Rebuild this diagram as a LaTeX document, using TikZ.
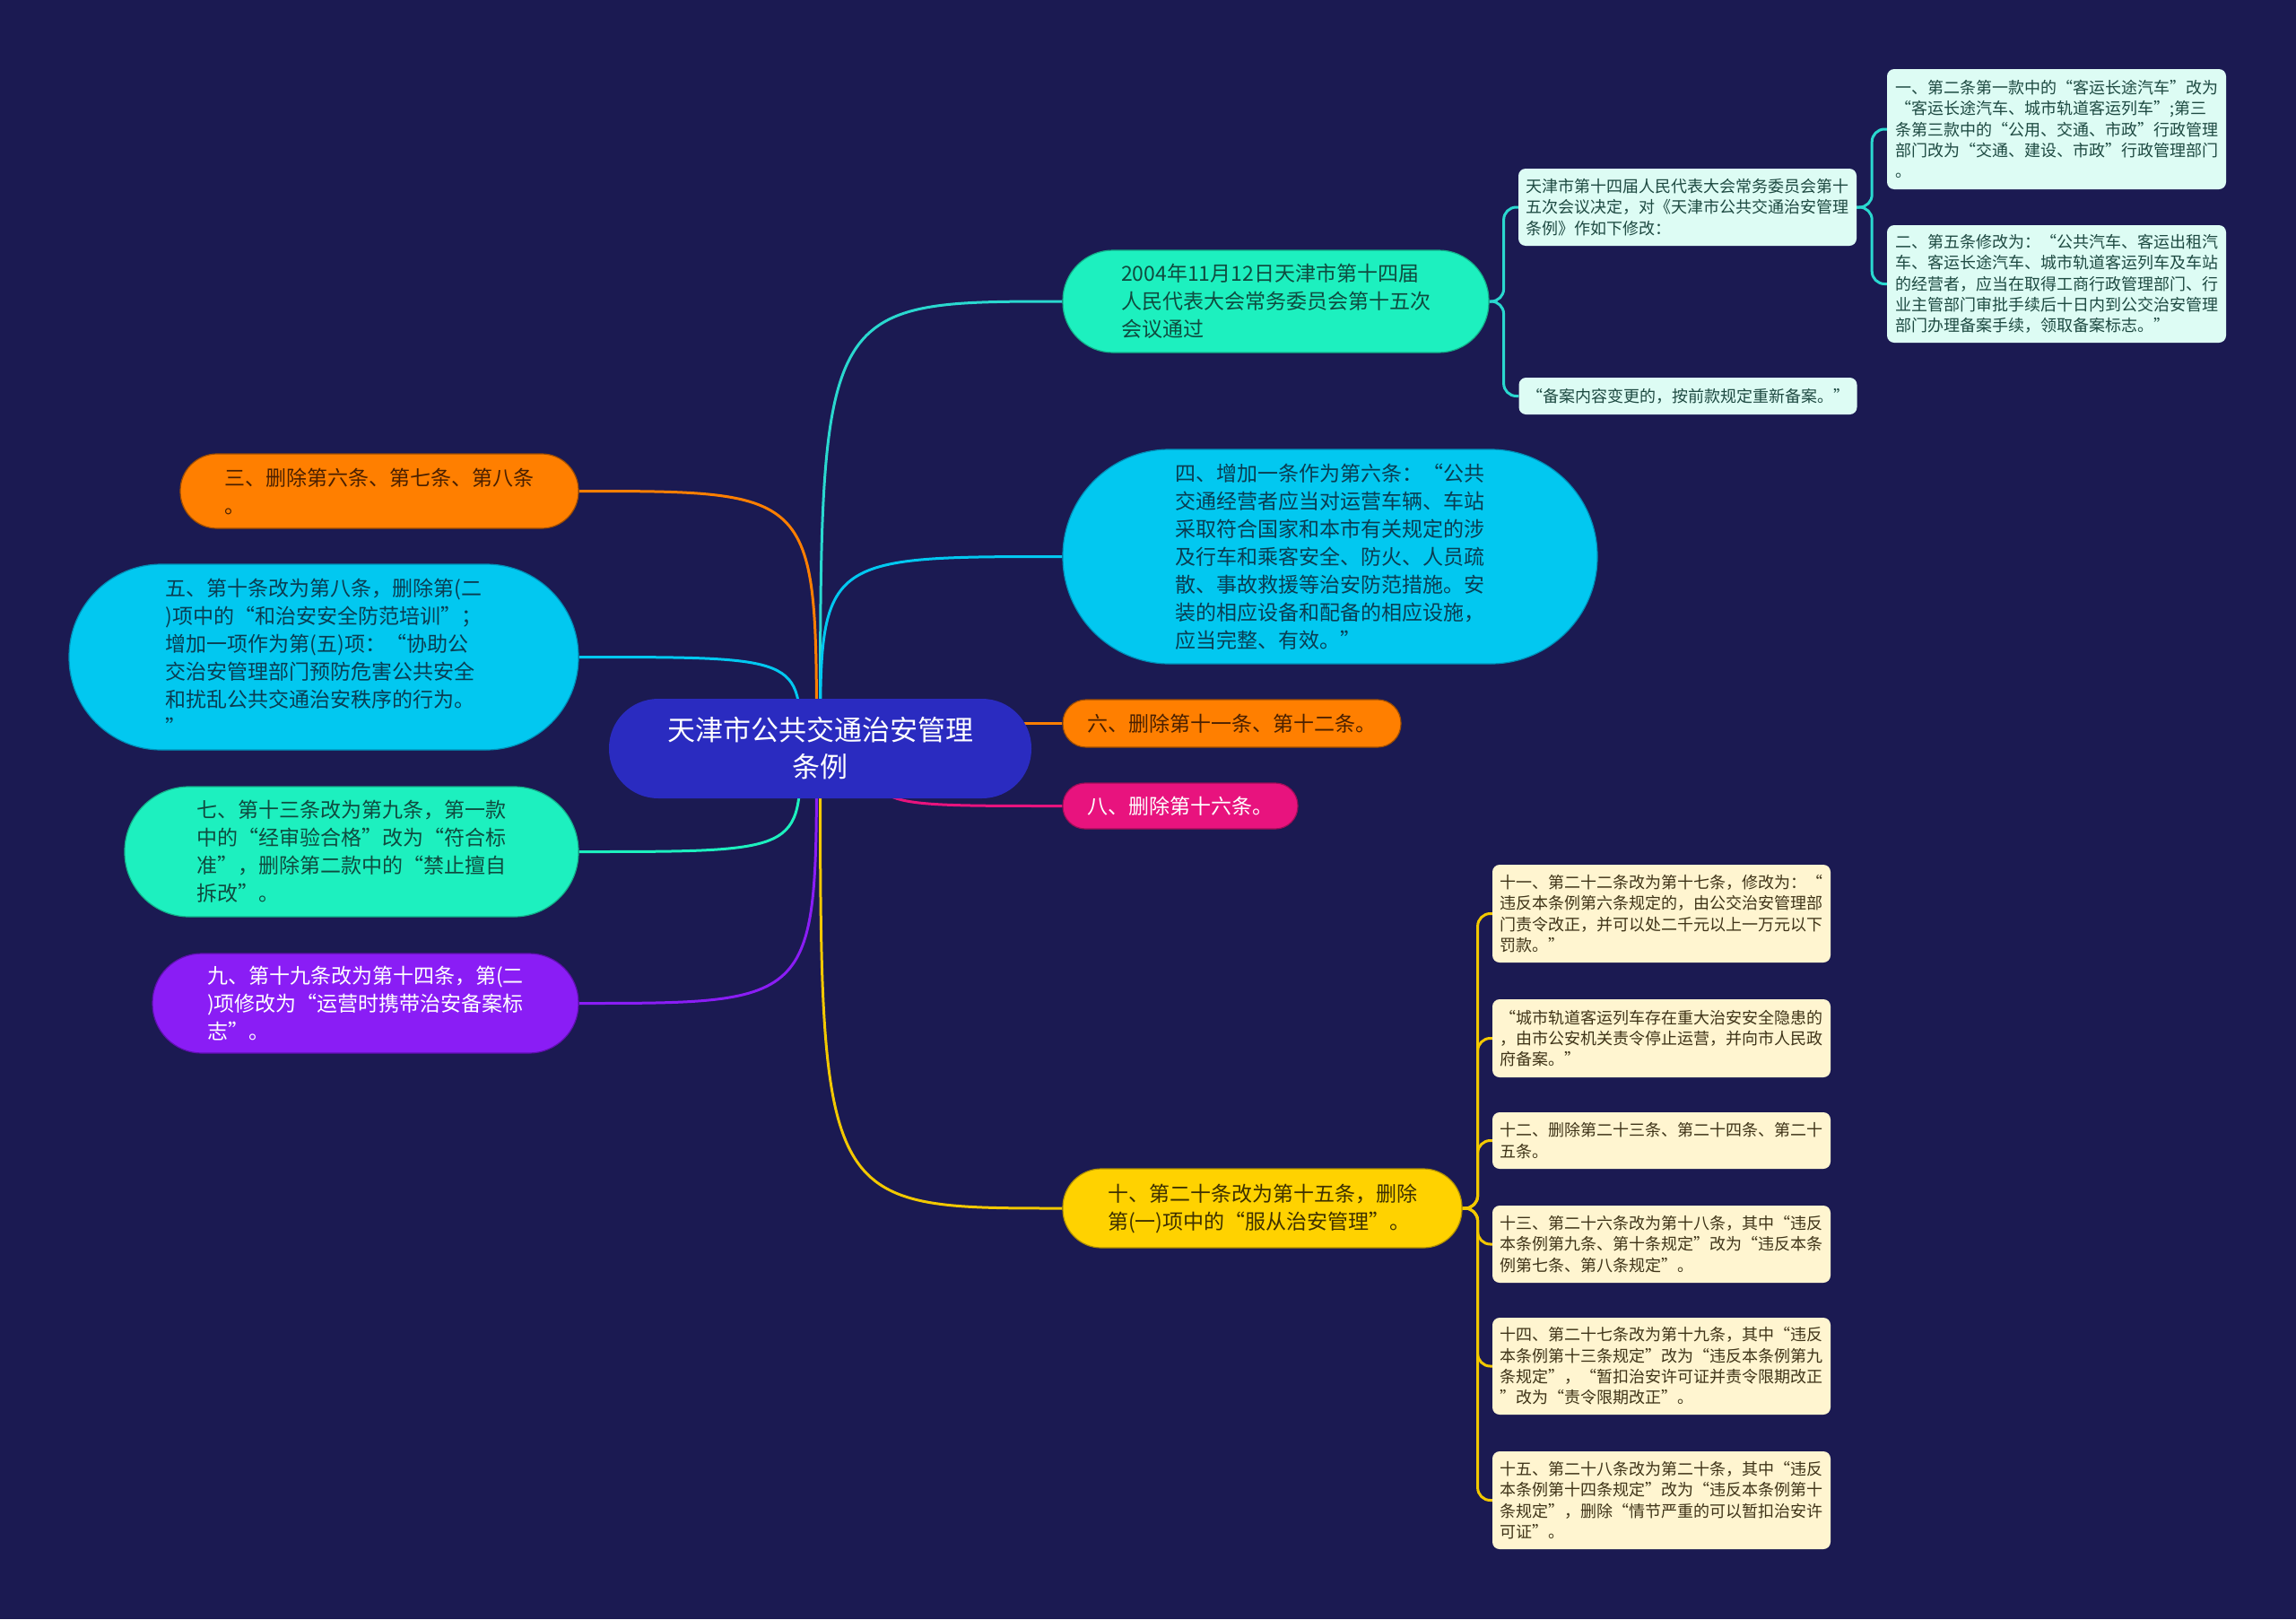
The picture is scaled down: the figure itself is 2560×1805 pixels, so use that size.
\documentclass[tikz,border=0pt]{standalone}
\usepackage{fontspec}
\newfontfamily\cjk{Noto Sans CJK SC}
\definecolor{bgc}{HTML}{1B1A52}
\definecolor{cRoot}{HTML}{2A2BC0}
\definecolor{cTeal}{HTML}{1DF0BF}\definecolor{tTeal}{HTML}{0F4B3F}\definecolor{bTeal}{HTML}{13B08A}
\definecolor{cCyan}{HTML}{02C8F0}\definecolor{tCyan}{HTML}{0A3D52}\definecolor{bCyan}{HTML}{0090B8}
\definecolor{cOrange}{HTML}{FF7F00}\definecolor{tOrange}{HTML}{4A2000}\definecolor{bOrange}{HTML}{A04E00}
\definecolor{cPink}{HTML}{E8137E}\definecolor{bPink}{HTML}{A00D58}
\definecolor{cYellow}{HTML}{FFD200}\definecolor{tYellow}{HTML}{3D3000}\definecolor{bYellow}{HTML}{B09000}
\definecolor{cPurple}{HTML}{8A1DF5}\definecolor{bPurple}{HTML}{6010B0}
\definecolor{cLCyan}{HTML}{DDFCF4}\definecolor{tLCyan}{HTML}{1E4A42}
\definecolor{cLYellow}{HTML}{FFF5D0}\definecolor{tLYellow}{HTML}{3F3418}
\definecolor{lTeal}{HTML}{2AD8CF}\definecolor{lYellow}{HTML}{F2C800}
\pgfdeclarelayer{back}\pgfdeclarelayer{links}
\pgfsetlayers{back,links,main}
\begin{document}
\begin{tikzpicture}[x=1pt,y=-1pt,
  big/.style={font=\cjk\fontsize{23}{31}\selectfont, align=left, inner sep=0pt, line width=1.2pt},
  small/.style={font=\cjk\fontsize{18}{23.3}\selectfont, align=left, inner sep=0pt, rounded corners=8pt},
  tealnode/.style={big, fill=cTeal, draw=bTeal, text=tTeal},
  cyannode/.style={big, fill=cCyan, draw=bCyan, text=tCyan},
  orangenode/.style={big, fill=cOrange, draw=bOrange, text=tOrange},
  pinknode/.style={big, fill=cPink, draw=bPink, text=white},
  yellownode/.style={big, fill=cYellow, draw=bYellow, text=tYellow},
  purplenode/.style={big, fill=cPurple, draw=bPurple, text=white},
  lcyanbox/.style={small, fill=cLCyan, text=tLCyan, minimum width=377pt},
  lyellowbox/.style={small, fill=cLYellow, text=tLYellow, minimum width=377pt},
  link/.style={line width=3pt},
  bracket/.style={line width=3pt, rounded corners=14pt}
]
\useasboundingbox (0,0) rectangle (2560,1805);
\begin{pgfonlayer}{back}
\fill[bgc] (0,0) rectangle (2560,1805);
\end{pgfonlayer}

% root
\node[font=\cjk\fontsize{31}{41}\selectfont, align=center, inner sep=0pt, fill=cRoot, text=white,
  minimum width=471pt, minimum height=111pt, rounded corners=55pt] (root) at (914.5,834.5)
  {天津市公共交通治安管理\\条例};

% right main branches
\node[tealnode, minimum width=475pt, minimum height=114pt, rounded corners=56pt] (n1) at (1422.5,336)
  {2004年11月12日天津市第十四届\\人民代表大会常务委员会第十五次\\会议通过};
\node[cyannode, minimum width=596pt, minimum height=239pt, rounded corners=119pt] (n4) at (1483,620.5)
  {四、增加一条作为第六条：“公共\\交通经营者应当对运营车辆、车站\\采取符合国家和本市有关规定的涉\\及行车和乘客安全、防火、人员疏\\散、事故救援等治安防范措施。安\\装的相应设备和配备的相应设施，\\应当完整、有效。”};
\node[orangenode, minimum width=377pt, minimum height=53pt, rounded corners=26pt] (n6) at (1373.5,806.5)
  {六、删除第十一条、第十二条。};
\node[pinknode, minimum width=262pt, minimum height=51pt, rounded corners=25pt] (n8) at (1316,898.5)
  {八、删除第十六条。};
\node[yellownode, minimum width=445pt, minimum height=88pt, rounded corners=43pt] (n10) at (1407.5,1347)
  {十、第二十条改为第十五条，删除\\第(一)项中的“服从治安管理”。};

% left main branches
\node[orangenode, minimum width=444pt, minimum height=83pt, rounded corners=41pt] (n3) at (423,547.5)
  {三、删除第六条、第七条、第八条\\。};
\node[cyannode, minimum width=568pt, minimum height=207pt, rounded corners=103pt] (n5) at (361,732.5)
  {五、第十条改为第八条，删除第(二\\)项中的“和治安安全防范培训”；\\增加一项作为第(五)项：“协助公\\交治安管理部门预防危害公共安全\\和扰乱公共交通治安秩序的行为。\\”};
\node[tealnode, minimum width=506pt, minimum height=145pt, rounded corners=72pt] (n7) at (392,949.5)
  {七、第十三条改为第九条，第一款\\中的“经审验合格”改为“符合标\\准”，删除第二款中的“禁止擅自\\拆改”。};
\node[purplenode, minimum width=475pt, minimum height=111pt, rounded corners=55pt] (n9) at (407.5,1118.5)
  {九、第十九条改为第十四条，第(二\\)项修改为“运营时携带治安备案标\\志”。};

% level 3 under n1
\node[lcyanbox, minimum height=86pt] (a1) at (1881.5,231)
  {天津市第十四届人民代表大会常务委员会第十\\五次会议决定，对《天津市公共交通治安管理\\条例》作如下修改：};
\node[lcyanbox, minimum height=41pt] (a2) at (1882,441.5)
  {“备案内容变更的，按前款规定重新备案。”};
% level 4 under a1
\node[lcyanbox, minimum width=378pt, minimum height=134pt] (c1) at (2293,144)
  {一、第二条第一款中的“客运长途汽车”改为\\“客运长途汽车、城市轨道客运列车”;第三\\条第三款中的“公用、交通、市政”行政管理\\部门改为“交通、建设、市政”行政管理部门\\。};
\node[lcyanbox, minimum width=378pt, minimum height=131pt] (c2) at (2293,316.5)
  {二、第五条修改为：“公共汽车、客运出租汽\\车、客运长途汽车、城市轨道客运列车及车站\\的经营者，应当在取得工商行政管理部门、行\\业主管部门审批手续后十日内到公交治安管理\\部门办理备案手续，领取备案标志。”};

% level 3 under n10
\node[lyellowbox, minimum height=109pt] (e1) at (1852.5,1018.5)
  {十一、第二十二条改为第十七条，修改为：“\\违反本条例第六条规定的，由公交治安管理部\\门责令改正，并可以处二千元以上一万元以下\\罚款。”};
\node[lyellowbox, minimum height=87pt] (e2) at (1852.5,1157.5)
  {“城市轨道客运列车存在重大治安安全隐患的\\，由市公安机关责令停止运营，并向市人民政\\府备案。”};
\node[lyellowbox, minimum height=63pt] (e3) at (1852.5,1271.5)
  {十二、删除第二十三条、第二十四条、第二十\\五条。};
\node[lyellowbox, minimum height=86pt] (e4) at (1852.5,1387)
  {十三、第二十六条改为第十八条，其中“违反\\本条例第九条、第十条规定”改为“违反本条\\例第七条、第八条规定”。};
\node[lyellowbox, minimum height=108pt] (e5) at (1852.5,1523)
  {十四、第二十七条改为第十九条，其中“违反\\本条例第十三条规定”改为“违反本条例第九\\条规定”，“暂扣治安许可证并责令限期改正\\”改为“责令限期改正”。};
\node[lyellowbox, minimum height=109pt] (e6) at (1852.5,1672.5)
  {十五、第二十八条改为第二十条，其中“违反\\本条例第十四条规定”改为“违反本条例第十\\条规定”，删除“情节严重的可以暂扣治安许\\可证”。};

\begin{pgfonlayer}{links}
% root connectors
\draw[link, draw=lTeal] (root.center) .. controls (root.center |- n1.west) .. (n1.west);
\draw[link, draw=cCyan] (root.center) .. controls (root.center |- n4.west) .. (n4.west);
\draw[link, draw=cOrange] (root.center |- n6.west) -- (n6.west);
\draw[link, draw=cPink] ([xshift=60pt]root.center) .. controls ([xshift=60pt]root.center |- n8.west) .. (n8.west);
\draw[link, draw=lYellow] (root.center) .. controls (root.center |- n10.west) .. (n10.west);
\draw[link, draw=cOrange] ([xshift=-4pt]root.center) .. controls ([xshift=-4pt]root.center |- n3.east) .. (n3.east);
\draw[link, draw=cCyan] ([xshift=-22pt]root.center) .. controls ([xshift=-22pt]root.center |- n5.east) .. (n5.east);
\draw[link, draw=cTeal] ([xshift=-22pt]root.center) .. controls ([xshift=-22pt]root.center |- n7.east) .. (n7.east);
\draw[link, draw=cPurple] ([xshift=-4pt]root.center) .. controls ([xshift=-4pt]root.center |- n9.east) .. (n9.east);
% brackets
\draw[bracket, draw=lTeal] (n1.east) -- ++(16,0) |- (a1.west);
\draw[bracket, draw=lTeal] (n1.east) -- ++(16,0) |- (a2.west);
\draw[bracket, draw=lTeal] (a1.east) -- ++(17,0) |- (c1.west);
\draw[bracket, draw=lTeal] (a1.east) -- ++(17,0) |- (c2.west);
\draw[bracket, draw=lYellow] (n10.east) -- ++(17,0) |- (e1.west);
\draw[bracket, draw=lYellow] (n10.east) -- ++(17,0) |- (e2.west);
\draw[bracket, draw=lYellow] (n10.east) -- ++(17,0) |- (e3.west);
\draw[bracket, draw=lYellow] (n10.east) -- ++(17,0) |- (e4.west);
\draw[bracket, draw=lYellow] (n10.east) -- ++(17,0) |- (e5.west);
\draw[bracket, draw=lYellow] (n10.east) -- ++(17,0) |- (e6.west);
\end{pgfonlayer}
\end{tikzpicture}
\end{document}
